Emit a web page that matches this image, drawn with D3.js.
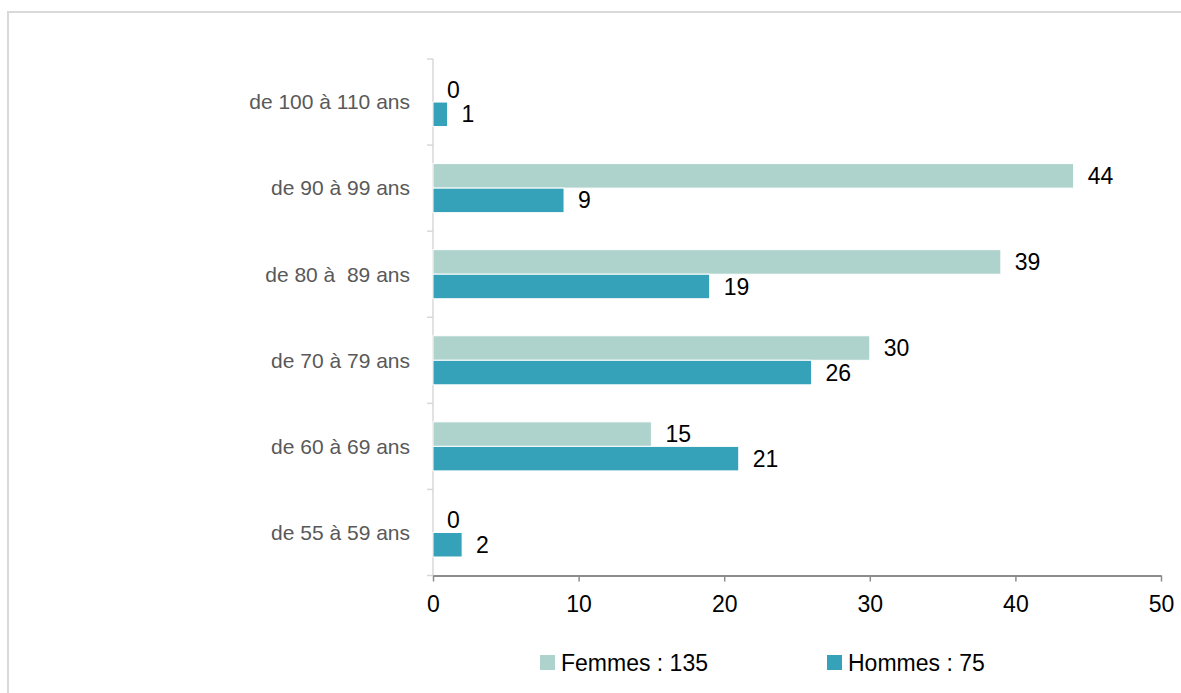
<!DOCTYPE html>
<html>
<head>
<meta charset="utf-8">
<script src="https://cdn.jsdelivr.net/npm/d3@7"></script>
<style>
  html, body { margin: 0; padding: 0; background: #fff; }
  svg { display: block; }
  text { white-space: pre; }
</style>
</head>
<body>
<script>
// Age groups, top to bottom
const categories = ["de 100 à 110 ans", "de 90 à 99 ans", "de 80 à  89 ans", "de 70 à 79 ans", "de 60 à 69 ans", "de 55 à 59 ans"];
const femmes = [0, 44, 39, 30, 15, 0];
const hommes = [1, 9, 19, 26, 21, 2];
const seriesNames = ["Femmes : 135", "Hommes : 75"];
const seriesColors = ["#aed2cc", "#35a2ba"];
const xTicks = [0, 10, 20, 30, 40, 50];

const W = 1181, H = 693;
const svg = d3.select("body").append("svg").attr("width", W).attr("height", H);

// Outer frame
svg.append("rect")
  .attr("x", 8).attr("y", 12)
  .attr("width", W + 20).attr("height", H + 20)
  .attr("fill", "none").attr("stroke", "#d9d9d9").attr("stroke-width", 2);

const plotLeft = 433, plotRight = 1161, plotTop = 59, plotBottom = 575.5;
const font = "'Liberation Sans', Arial, sans-serif";

const x = d3.scaleLinear().domain([0, 50]).range([plotLeft, plotRight]);
const y = d3.scaleBand().domain(categories).range([plotTop, plotBottom]).padding(0);
const inner = d3.scaleBand().domain([0, 1]).range([0, y.bandwidth()]).paddingInner(0).paddingOuter(0.755);

// Category axis (left)
const yAxis = svg.append("g").attr("transform", `translate(${plotLeft},0)`);
yAxis.append("line")
  .attr("x1", 0).attr("x2", 0).attr("y1", plotTop).attr("y2", plotBottom)
  .attr("stroke", "#d9d9d9").attr("stroke-width", 1.5);
const boundaries = categories.map(c => y(c)).concat([plotBottom]);
yAxis.selectAll("line.tick").data(boundaries).join("line")
  .attr("class", "tick")
  .attr("x1", -6).attr("x2", 0)
  .attr("y1", d => d).attr("y2", d => d)
  .attr("stroke", "#d9d9d9").attr("stroke-width", 1.5);
yAxis.selectAll("text").data(categories).join("text")
  .attr("x", -23)
  .attr("y", d => y(d) + y.bandwidth() / 2)
  .attr("dy", "0.35em")
  .attr("text-anchor", "end")
  .attr("font-family", font).attr("font-size", 21)
  .attr("fill", "#595959")
  .text(d => d);

// Value axis (bottom)
const xAxisG = svg.append("g").attr("transform", `translate(0,${plotBottom})`)
  .call(d3.axisBottom(x).tickValues(xTicks).tickSize(6).tickPadding(14).tickSizeOuter(0));
xAxisG.select(".domain").attr("stroke", "#8c8c8c").attr("stroke-width", 2);
xAxisG.selectAll(".tick line").attr("stroke", "#8c8c8c").attr("stroke-width", 1.5);
xAxisG.selectAll(".tick text")
  .attr("font-family", font).attr("font-size", 23).attr("fill", "#000");

// Bars with value labels
const series = [femmes, hommes];
series.forEach((vals, si) => {
  const g = svg.append("g");
  const rows = categories.map((c, i) => ({ c, v: vals[i] }));
  g.selectAll("rect").data(rows).join("rect")
    .attr("x", x(0))
    .attr("y", d => y(d.c) + inner(si))
    .attr("width", d => x(d.v) - x(0))
    .attr("height", inner.bandwidth())
    .attr("fill", seriesColors[si])
    .attr("stroke", d => d.v > 0 ? "#fff" : "none")
    .attr("stroke-width", 1);
  g.selectAll("text").data(rows).join("text")
    .attr("x", d => x(d.v) + 14)
    .attr("y", d => y(d.c) + inner(si) + inner.bandwidth() / 2)
    .attr("dy", "0.35em")
    .attr("font-family", font).attr("font-size", 23)
    .attr("fill", "#000")
    .text(d => d.v);
});

// Legend
const legendX = [540, 827];
const legend = svg.append("g");
seriesNames.forEach((name, i) => {
  legend.append("rect")
    .attr("x", legendX[i]).attr("y", 655)
    .attr("width", 15).attr("height", 15)
    .attr("fill", seriesColors[i]);
  legend.append("text")
    .attr("x", legendX[i] + 21).attr("y", 662.5)
    .attr("dy", "0.35em")
    .attr("font-family", font).attr("font-size", 23)
    .attr("fill", "#000")
    .text(name);
});
</script>
</body>
</html>
